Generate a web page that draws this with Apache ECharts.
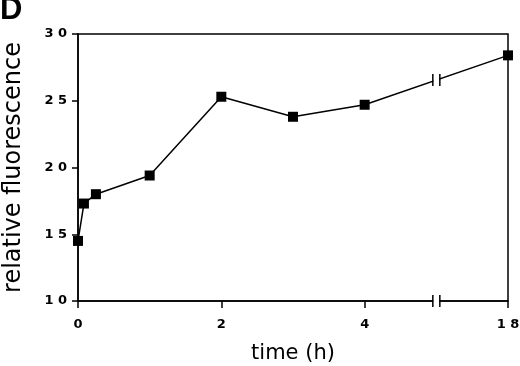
<!DOCTYPE html>
<html>
<head>
<meta charset="utf-8">
<script src="https://cdn.jsdelivr.net/npm/echarts@6/dist/echarts.min.js"></script>
<style>
	html, body { margin: 0; padding: 0; background: #fff; }
	#chart { width: 520px; height: 366px; }
</style>
</head>
<body>
<div id="chart"></div>
<script>
	// time points (h) and measured values
	var timeH = [0, 0.083, 0.25, 1, 2, 3, 4, 18]
	var fluorescence = [14.5, 17.3, 18.0, 19.4, 25.3, 23.8, 24.7, 28.4]
	var xTickValues = [0, 2, 4, 18]
	var yTicks = [10, 15, 20, 25, 30]

	// axis is broken between 5 h and 17 h
	var breakStart = 5
	var breakEnd = 17
	function axisPos(t) {
		return t > breakStart ? t - (breakEnd - breakStart) : t
	}
	function axisLabelOf(p) {
		return p > breakStart ? p + (breakEnd - breakStart) : p
	}
	function spaced(v) {
		return String(v).split('').join(' ')
	}

	var points = timeH.map(function (t, i) {
		return [axisPos(t), fluorescence[i]]
	})

	var dom = echarts.init(document.getElementById('chart'))

	var option = {
		animation: false,
		grid: {
			left: 78,
			right: 12,
			top: 34,
			bottom: 65,
			outerBoundsMode: 'none',
			show: true,
			borderColor: '#000',
			borderWidth: 1.5
		},
		xAxis: {
			type: 'value',
			min: 0,
			max: axisPos(xTickValues[xTickValues.length - 1]),
			interval: 2,
			name: 'time (h)',
			nameLocation: 'middle',
			nameGap: 42,
			nameTextStyle: {
				color: '#000',
				fontFamily: 'DejaVu Sans',
				fontSize: 21
			},
			axisLine: { lineStyle: { color: '#000', width: 1.5 } },
			axisTick: { length: 7, lineStyle: { color: '#000', width: 1.5 } },
			splitLine: { show: false },
			axisLabel: {
				color: '#000',
				fontFamily: 'DejaVu Sans',
				fontWeight: 'bold',
				fontSize: 13,
				margin: 17,
				formatter: function (v) {
					return spaced(axisLabelOf(v))
				}
			}
		},
		yAxis: {
			type: 'value',
			min: yTicks[0],
			max: yTicks[yTicks.length - 1],
			interval: 5,
			name: 'relative fluorescence',
			nameLocation: 'middle',
			nameGap: 52,
			nameTextStyle: {
				color: '#000',
				fontFamily: 'DejaVu Sans',
				fontSize: 24
			},
			axisLine: { lineStyle: { color: '#000', width: 1.5 } },
			axisTick: { length: 6, lineStyle: { color: '#000', width: 1.5 } },
			splitLine: { show: false },
			axisLabel: {
				color: '#000',
				fontFamily: 'DejaVu Sans',
				fontWeight: 'bold',
				fontSize: 13,
				margin: 11,
				formatter: function (v) {
					return spaced(v)
				}
			}
		},
		series: [{
			type: 'line',
			data: points,
			symbol: 'rect',
			symbolSize: 10,
			lineStyle: { color: '#000', width: 1.5 },
			itemStyle: { color: '#000' },
			z: 3
		}]
	}

	dom.setOption(option)

	// break marks on the x axis and on the data line
	function breakMark(x, y) {
		return [{
			type: 'rect',
			shape: { x: x - 3, y: y - 3, width: 6, height: 6 },
			style: { fill: '#fff' },
			z: 10
		}, {
			type: 'line',
			shape: { x1: x - 3.5, y1: y - 6, x2: x - 3.5, y2: y + 6 },
			style: { stroke: '#000', lineWidth: 1.5 },
			z: 11
		}, {
			type: 'line',
			shape: { x1: x + 3.5, y1: y - 6, x2: x + 3.5, y2: y + 6 },
			style: { stroke: '#000', lineWidth: 1.5 },
			z: 11
		}]
	}

	var last = fluorescence.length - 1
	var lineY = fluorescence[last - 1] + (fluorescence[last] - fluorescence[last - 1]) *
		(breakStart - axisPos(timeH[last - 1])) / (axisPos(timeH[last]) - axisPos(timeH[last - 1]))
	var axisPt = dom.convertToPixel({ gridIndex: 0 }, [breakStart, yTicks[0]])
	var linePt = dom.convertToPixel({ gridIndex: 0 }, [breakStart, lineY])

	dom.setOption({
		graphic: breakMark(axisPt[0], axisPt[1]).concat(breakMark(linePt[0], linePt[1])).concat([{
			type: 'text',
			left: 0,
			top: -5,
			style: {
				text: 'D',
				fill: '#000',
				font: 'bold 31px "Liberation Sans"'
			}
		}])
	})
</script>
</body>
</html>
